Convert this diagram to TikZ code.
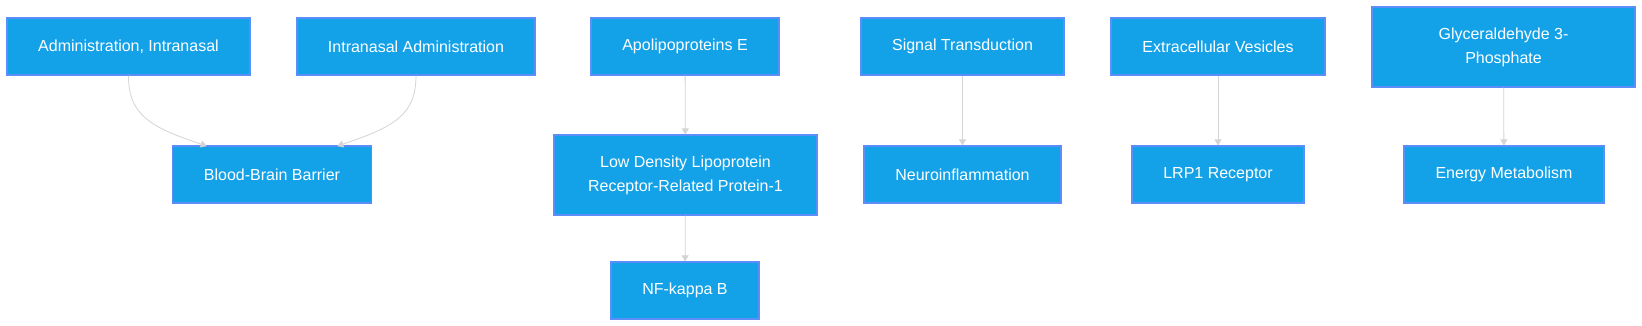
\documentclass[tikz,border=0pt]{standalone}
\usepackage{fontspec}
\setmainfont{Liberation Sans}
\usetikzlibrary{arrows.meta}
\definecolor{boxfill}{RGB}{19,162,232}
\definecolor{boxline}{RGB}{92,142,250}
\definecolor{edgegrey}{RGB}{212,212,212}
\tikzset{
  box/.style={draw=boxline, fill=boxfill, line width=1.2pt, text=white, align=center,
    font=\fontsize{16}{24}\selectfont, inner sep=0pt, minimum height=57pt},
  tall/.style={minimum height=80pt},
  link/.style={draw=edgegrey, line width=0.8pt, -{Triangle[width=7pt,length=6pt]}}
}
\begin{document}
\begin{tikzpicture}[x=1pt,y=-1pt]
\useasboundingbox (0,0) rectangle (1642,326);
\fill[white] (0,0) rectangle (1642,326);
\node[box, minimum width=243pt] (a1) at (128.5,46.5) {Administration, Intranasal};
\node[box, minimum width=238pt] (a2) at (416,46.5) {Intranasal Administration};
\node[box, minimum width=198.5pt] (bbb) at (272,174.5) {Blood-Brain Barrier};
\node[box, minimum width=188pt] (apo) at (685,46.5) {Apolipoproteins E};
\node[box, tall, minimum width=263pt] (ldl) at (685.5,175) {Low Density Lipoprotein\\Receptor-Related Protein-1};
\node[box, minimum width=148pt] (nfk) at (685,290.5) {NF-kappa B};
\node[box, minimum width=203pt] (sig) at (962.5,46.5) {Signal Transduction};
\node[box, minimum width=197pt] (neu) at (962.5,174.5) {Neuroinflammation};
\node[box, minimum width=214pt] (ext) at (1218,46.5) {Extracellular Vesicles};
\node[box, minimum width=172pt] (lrp) at (1218,174.5) {LRP1 Receptor};
\node[box, tall, minimum width=263pt] (gly) at (1503.5,47) {Glyceraldehyde 3-\\Phosphate};
\node[box, minimum width=200pt] (ene) at (1504,174.5) {Energy Metabolism};
\coordinate (bbbL) at (206.7,146);
\coordinate (bbbR) at (337.3,146);
\draw[link] (a1.south) .. controls (128.5,115) and (150,127) .. (bbbL);
\draw[link] (a2.south) .. controls (416,115) and (394,127) .. (bbbR);
\draw[link] (apo) -- (ldl);
\draw[link] (ldl) -- (nfk);
\draw[link] (sig) -- (neu);
\draw[link] (ext) -- (lrp);
\draw[link] (gly) -- (ene);
\end{tikzpicture}
\end{document}
